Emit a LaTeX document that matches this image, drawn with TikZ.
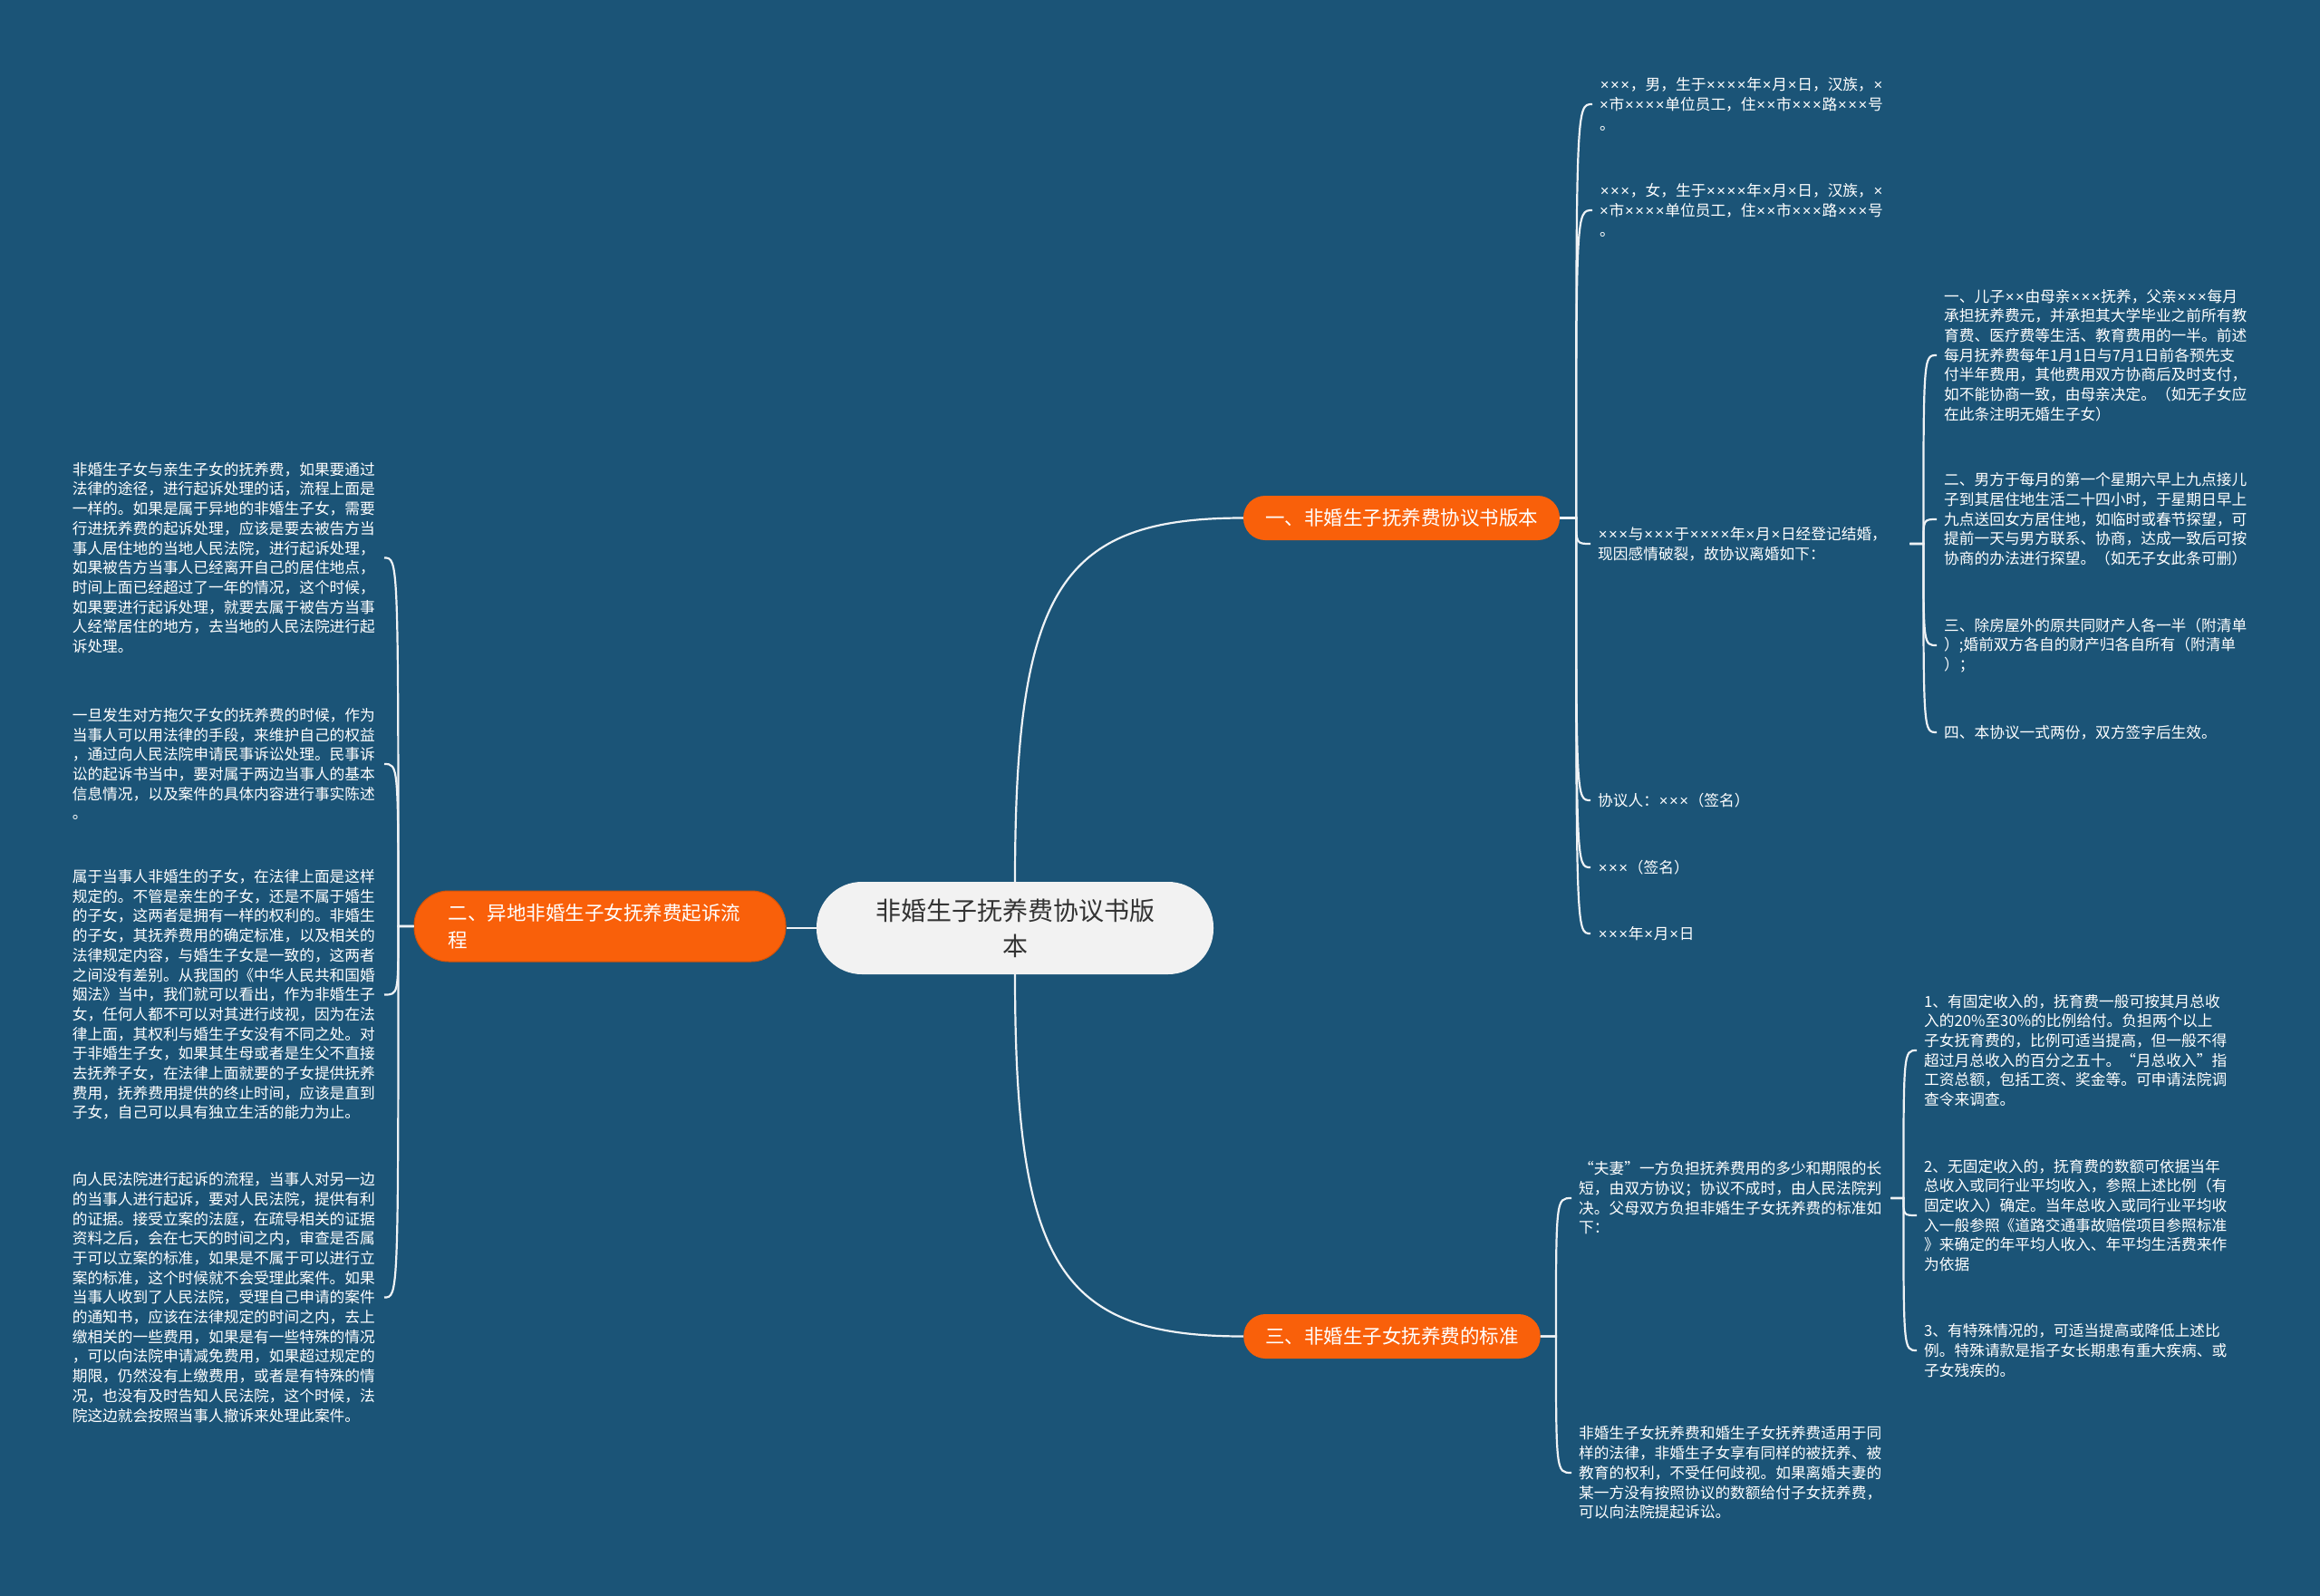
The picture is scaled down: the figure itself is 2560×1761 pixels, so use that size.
\documentclass[tikz,border=0pt]{standalone}
\usepackage{fontspec}
\newfontfamily\cjk{Noto Sans CJK SC}
\newfontfamily\xfnt{Liberation Sans}
\newcommand\mulx{{\kern0.75pt\xfnt ×\kern0.75pt}}
\definecolor{bg}{HTML}{1B5477}
\definecolor{org}{HTML}{F9600A}
\definecolor{cen}{HTML}{F2F2F2}
\definecolor{ln}{HTML}{EEF2F5}
\begin{document}
\begin{tikzpicture}[x=1pt,y=-1pt,
  leaf/.style={font=\cjk\fontsize{16.7}{21.7}\selectfont, text=white, align=left, text width=336pt, inner xsep=8pt, inner ysep=0pt},
  topic/.style={fill=org, text=white, font=\cjk\fontsize{21.5}{30}\selectfont, rounded corners=24pt, minimum height=49pt, inner xsep=24pt, inner ysep=0pt, align=center},
  topictwo/.style={fill=org, draw=org!85!black, line width=1pt, text=white, font=\cjk\fontsize{21.5}{30}\selectfont, rounded corners=38pt, minimum height=78pt, minimum width=410pt, text width=335pt, inner xsep=37pt, align=left},
  central/.style={fill=cen, text=black!80, font=\cjk\fontsize{28}{39}\selectfont, rounded corners=50pt, minimum height=102pt, minimum width=438pt, align=center},
  conn/.style={draw=ln, line width=2.2pt}]
\path[use as bounding box, fill=bg] (0,0) rectangle (2560,1761);

% main nodes
\node[central] (root) at (1120,1024) {非婚生子抚养费协议书版\\本};
\node[topic] (n1) at (1546.5,571.5) {一、非婚生子抚养费协议书版本};
\node[topic] (n3) at (1536,1474.5) {三、非婚生子女抚养费的标准};
\node[topictwo] (n2) at (662,1022) {二、异地非婚生子女抚养费起诉流\\程};

% branch 1 children
\node[leaf, anchor=west] (c1a) at (1757,115) {\mulx\mulx\mulx，男，生于\mulx\mulx\mulx\mulx 年\mulx 月\mulx 日，汉族，\mulx\\\mulx 市\mulx\mulx\mulx\mulx 单位员工，住\mulx\mulx 市\mulx\mulx\mulx 路\mulx\mulx\mulx 号\\。};
\node[leaf, anchor=west] (c1b) at (1757,232) {\mulx\mulx\mulx，女，生于\mulx\mulx\mulx\mulx 年\mulx 月\mulx 日，汉族，\mulx\\\mulx 市\mulx\mulx\mulx\mulx 单位员工，住\mulx\mulx 市\mulx\mulx\mulx 路\mulx\mulx\mulx 号\\。};
\node[leaf, anchor=west] (c1c) at (1755,600) {\mulx\mulx\mulx 与\mulx\mulx\mulx 于\mulx\mulx\mulx\mulx 年\mulx 月\mulx 日经登记结婚，\\现因感情破裂，故协议离婚如下：};
\node[leaf, anchor=west] (c1d) at (1755,883) {协议人：\mulx\mulx\mulx（签名）};
\node[leaf, anchor=west] (c1e) at (1755,957) {\mulx\mulx\mulx（签名）};
\node[leaf, anchor=west] (c1f) at (1755,1030) {\mulx\mulx\mulx 年\mulx 月\mulx 日};

% grandchildren of c1c
\node[leaf, anchor=west] (g1) at (2137,392) {一、儿子\mulx\mulx 由母亲\mulx\mulx\mulx 抚养，父亲\mulx\mulx\mulx 每月\\承担抚养费元，并承担其大学毕业之前所有教\\育费、医疗费等生活、教育费用的一半。前述\\每月抚养费每年1月1日与7月1日前各预先支\\付半年费用，其他费用双方协商后及时支付，\\如不能协商一致，由母亲决定。（如无子女应\\在此条注明无婚生子女）};
\node[leaf, anchor=west] (g2) at (2137,573) {二、男方于每月的第一个星期六早上九点接儿\\子到其居住地生活二十四小时，于星期日早上\\九点送回女方居住地，如临时或春节探望，可\\提前一天与男方联系、协商，达成一致后可按\\协商的办法进行探望。（如无子女此条可删）};
\node[leaf, anchor=west] (g3) at (2137,712) {三、除房屋外的原共同财产人各一半（附清单\\）;婚前双方各自的财产归各自所有（附清单\\）；};
\node[leaf, anchor=west] (g4) at (2137,808) {四、本协议一式两份，双方签字后生效。};

% branch 3 children
\node[leaf, anchor=west] (c3a) at (1734,1322) {“夫妻”一方负担抚养费用的多少和期限的长\\短，由双方协议；协议不成时，由人民法院判\\决。父母双方负担非婚生子女抚养费的标准如\\下：};
\node[leaf, anchor=west] (c3b) at (1734,1625) {非婚生子女抚养费和婚生子女抚养费适用于同\\样的法律，非婚生子女享有同样的被抚养、被\\教育的权利，不受任何歧视。如果离婚夫妻的\\某一方没有按照协议的数额给付子女抚养费，\\可以向法院提起诉讼。};

\node[leaf, anchor=west] (h1) at (2115,1159) {1、有固定收入的，抚育费一般可按其月总收\\入的20\%至30\%的比例给付。负担两个以上\\子女抚育费的，比例可适当提高，但一般不得\\超过月总收入的百分之五十。“月总收入”指\\工资总额，包括工资、奖金等。可申请法院调\\查令来调查。};
\node[leaf, anchor=west] (h2) at (2115,1341) {2、无固定收入的，抚育费的数额可依据当年\\总收入或同行业平均收入，参照上述比例（有\\固定收入）确定。当年总收入或同行业平均收\\入一般参照《道路交通事故赔偿项目参照标准\\》来确定的年平均人收入、年平均生活费来作\\为依据};
\node[leaf, anchor=west] (h3) at (2115,1490) {3、有特殊情况的，可适当提高或降低上述比\\例。特殊请款是指子女长期患有重大疾病、或\\子女残疾的。};

% branch 2 children (left)
\node[leaf, anchor=east] (L1) at (424,615.5) {非婚生子女与亲生子女的抚养费，如果要通过\\法律的途径，进行起诉处理的话，流程上面是\\一样的。如果是属于异地的非婚生子女，需要\\行进抚养费的起诉处理，应该是要去被告方当\\事人居住地的当地人民法院，进行起诉处理，\\如果被告方当事人已经离开自己的居住地点，\\时间上面已经超过了一年的情况，这个时候，\\如果要进行起诉处理，就要去属于被告方当事\\人经常居住的地方，去当地的人民法院进行起\\诉处理。};
\node[leaf, anchor=east] (L2) at (424,843) {一旦发生对方拖欠子女的抚养费的时候，作为\\当事人可以用法律的手段，来维护自己的权益\\，通过向人民法院申请民事诉讼处理。民事诉\\讼的起诉书当中，要对属于两边当事人的基本\\信息情况，以及案件的具体内容进行事实陈述\\。};
\node[leaf, anchor=east] (L3) at (424,1097.5) {属于当事人非婚生的子女，在法律上面是这样\\规定的。不管是亲生的子女，还是不属于婚生\\的子女，这两者是拥有一样的权利的。非婚生\\的子女，其抚养费用的确定标准，以及相关的\\法律规定内容，与婚生子女是一致的，这两者\\之间没有差别。从我国的《中华人民共和国婚\\姻法》当中，我们就可以看出，作为非婚生子\\女，任何人都不可以对其进行歧视，因为在法\\律上面，其权利与婚生子女没有不同之处。对\\于非婚生子女，如果其生母或者是生父不直接\\去抚养子女，在法律上面就要的子女提供抚养\\费用，抚养费用提供的终止时间，应该是直到\\子女，自己可以具有独立生活的能力为止。};
\node[leaf, anchor=east] (L4) at (424,1431.5) {向人民法院进行起诉的流程，当事人对另一边\\的当事人进行起诉，要对人民法院，提供有利\\的证据。接受立案的法庭，在疏导相关的证据\\资料之后，会在七天的时间之内，审查是否属\\于可以立案的标准，如果是不属于可以进行立\\案的标准，这个时候就不会受理此案件。如果\\当事人收到了人民法院，受理自己申请的案件\\的通知书，应该在法律规定的时间之内，去上\\缴相关的一些费用，如果是有一些特殊的情况\\，可以向法院申请减免费用，如果超过规定的\\期限，仍然没有上缴费用，或者是有特殊的情\\况，也没有及时告知人民法院，这个时候，法\\院这边就会按照当事人撤诉来处理此案件。};

% spine points
\coordinate (s1) at ([xshift=18pt]n1.east);
\coordinate (s3) at ([xshift=17pt]n3.east);
\coordinate (sc) at ([xshift=15pt]c1c.east);
\coordinate (sa) at ([xshift=14pt]c3a.east);
\coordinate (s2) at ([xshift=-17pt]n2.west);

% connectors
\draw[conn] (root.north) .. controls +(0,-323) and +(-202,0) .. (n1.west);
\draw[conn] (root.south) .. controls +(0,323) and +(-202,0) .. (n3.west);
\draw[conn] (root.west) -- (n2.east |- root.west);

\foreach \c in {c1a,c1b,c1c,c1d,c1e,c1f}
  \draw[conn] (n1.east) -- (s1) .. controls (s1 |- \c.west) .. (\c.west);
\foreach \c in {g1,g2,g3,g4}
  \draw[conn] (c1c.east) -- (sc) .. controls (sc |- \c.west) .. (\c.west);
\foreach \c in {c3a,c3b}
  \draw[conn] (n3.east) -- (s3) .. controls (s3 |- \c.west) .. (\c.west);
\foreach \c in {h1,h2,h3}
  \draw[conn] (c3a.east) -- (sa) .. controls (sa |- \c.west) .. (\c.west);
\foreach \c in {L1,L2,L3,L4}
  \draw[conn] (n2.west) -- (s2) .. controls (s2 |- \c.east) .. (\c.east);
\end{tikzpicture}
\end{document}
